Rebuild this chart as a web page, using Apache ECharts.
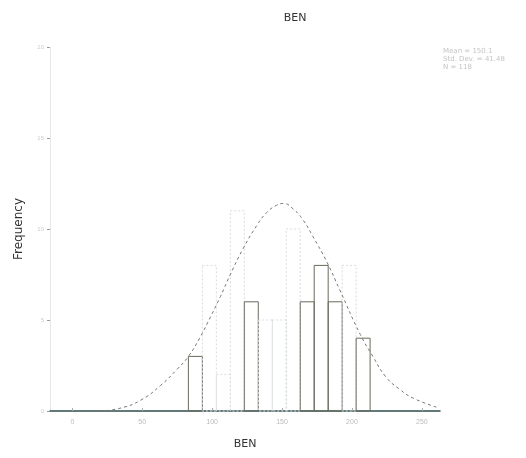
<!DOCTYPE html>
<html>
<head>
<meta charset="utf-8">
<script src="https://cdn.jsdelivr.net/npm/echarts@6/dist/echarts.min.js"></script>
<style>html,body{margin:0;padding:0;background:#fff;}#c{width:526px;height:458px;}</style>
</head>
<body>
<div id="c"></div>
<script>
// ---- data ----
const binEdges = [83, 93, 103, 113, 123, 133, 143, 153, 163, 173, 183, 193, 203, 213];
const binCounts = [3, 8, 2, 11, 6, 5, 5, 10, 6, 8, 6, 8, 4];
const curveX = [20, 34, 49, 63, 75, 83, 91, 99, 106, 113, 122, 132, 139, 146, 151, 158, 165, 172, 182, 191, 206, 215, 224, 234, 244, 261];
const curveY = [0, 0.15, 0.6, 1.4, 2.3, 3.0, 4.0, 5.2, 6.3, 7.5, 8.9, 10.2, 10.9, 11.3, 11.4, 11.1, 10.5, 9.6, 8.2, 6.7, 4.2, 3.0, 1.9, 1.2, 0.7, 0.2];
const xTickLabels = [0, 50, 100, 150, 200, 250];
const yTickLabels = [0, 5, 10, 15, 20];
const statsLines = ['Mean = 150.1', 'Std. Dev. = 41.48', 'N = 118'];

// style only: which bars print dark
const darkBins = [0, 4, 8, 9, 10, 12];

const histData = binCounts.map((c, i) => [binEdges[i], binEdges[i + 1], c, i]);
const curveData = curveX.map((x, i) => [x, curveY[i]]);

const chart = echarts.init(document.getElementById('c'));
chart.setOption({
  animation: false,
  backgroundColor: '#fff',
  title: {
    text: 'BEN', left: 290, top: 8, textAlign: 'center',
    textStyle: { fontSize: 11, fontWeight: 'normal', color: '#333', fontFamily: 'DejaVu Sans' }
  },
  grid: { left: 50, right: 86, top: 47, bottom: 47 },
  xAxis: {
    type: 'value', min: -16, max: 263,
    name: 'BEN', nameLocation: 'middle', nameGap: 28,
    nameTextStyle: { fontSize: 11, color: '#333', fontFamily: 'DejaVu Sans' },
    axisLine: { lineStyle: { color: '#2f4f4f', width: 1.5 } },
    axisTick: { inside: true, length: 3, lineStyle: { color: '#aaa' }, customValues: xTickLabels },
    axisLabel: { fontSize: 7, color: '#bbb', margin: 8, customValues: xTickLabels },
    splitLine: { show: false }
  },
  yAxis: {
    type: 'value', min: 0, max: 20,
    name: 'Frequency', nameLocation: 'middle', nameGap: 25, nameRotate: 90,
    nameTextStyle: { fontSize: 12, color: '#333', fontFamily: 'DejaVu Sans' },
    axisLine: { show: true, onZero: false, lineStyle: { color: '#e2e2e2', type: 'dotted' } },
    axisTick: { show: true, length: 3, lineStyle: { color: '#999' }, customValues: yTickLabels },
    axisLabel: { fontSize: 6, color: '#ccc', margin: 6, customValues: yTickLabels },
    splitLine: { show: false }
  },
  graphic: [{
    type: 'text', left: 443, top: 47,
    style: { text: statsLines.join('\n'), fontSize: 7, lineHeight: 8, fill: '#c4c4c4', fontFamily: 'DejaVu Sans' }
  }],
  series: [
    {
      type: 'custom',
      data: histData,
      encode: { x: [0, 1], y: 2 },
      renderItem: function (params, api) {
        const x0 = api.value(0), x1 = api.value(1), h = api.value(2), idx = api.value(3);
        const p0 = api.coord([x0, h]);
        const p1 = api.coord([x1, 0]);
        const dark = darkBins.indexOf(idx) >= 0;
        return {
          type: 'rect',
          shape: { x: p0[0], y: p0[1], width: p1[0] - p0[0], height: p1[1] - p0[1] },
          style: {
            fill: 'none',
            stroke: dark ? '#6a6a5a' : '#d6dce0',
            lineWidth: 1,
            lineDash: dark ? null : [2, 2]
          }
        };
      },
      z: 2
    },
    {
      type: 'line',
      data: curveData,
      smooth: true,
      showSymbol: false,
      lineStyle: { color: '#777', width: 1, type: [3, 3] },
      z: 3
    }
  ]
});
</script>
</body>
</html>
